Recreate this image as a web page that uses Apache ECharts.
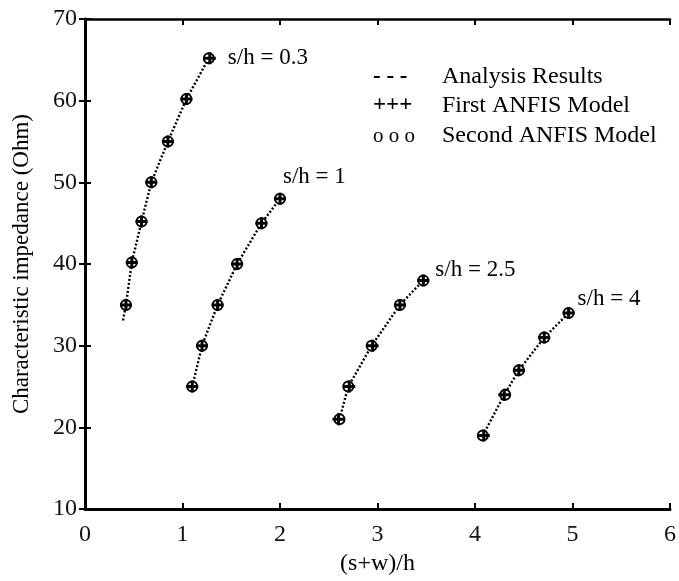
<!DOCTYPE html>
<html>
<head>
    <meta charset="UTF-8">
    <title>Characteristic impedance vs (s+w)/h</title>
    <script src="https://cdn.jsdelivr.net/npm/echarts@6/dist/echarts.min.js"></script>
</head>
<body style="margin:0;background:#fff;">
    <div id="main" style="width: 679px;height:581px;"></div>
    <script type="text/javascript">
        // curve labels
        var curveNames = ['s/h = 0.3', 's/h = 1', 's/h = 2.5', 's/h = 4'];

        // analysis results (dotted lines)
        var anaX03 = [0.39, 0.42, 0.48, 0.58, 0.68, 0.85, 1.04, 1.27];
        var anaY03 = [33.1, 35, 40.2, 45.2, 50, 55, 60.2, 65.2];
        var anaX1 = [1.10, 1.20, 1.36, 1.56, 1.81, 2.00];
        var anaY1 = [25, 30, 35, 40, 45, 48];
        var anaX25 = [2.61, 2.70, 2.94, 3.23, 3.47];
        var anaY25 = [21, 25, 30, 35, 38];
        var anaX4 = [4.08, 4.30, 4.45, 4.71, 4.96];
        var anaY4 = [19, 24, 27, 31, 34];

        // first ANFIS model (+)
        var f1X03 = [0.42, 0.48, 0.58, 0.68, 0.85, 1.04, 1.28];
        var f1Y03 = [35, 40.2, 45.2, 50, 55, 60.2, 65.2];
        var f1X1 = [1.10, 1.20, 1.36, 1.56, 1.81, 2.00];
        var f1Y1 = [25, 30, 35, 40, 45, 48];
        var f1X25 = [2.60, 2.71, 2.95, 3.23, 3.47];
        var f1Y25 = [21, 25, 30, 35, 38];
        var f1X4 = [4.09, 4.30, 4.45, 4.71, 4.96];
        var f1Y4 = [19, 24, 27, 31, 34];

        // second ANFIS model (o)
        var f2X03 = [0.42, 0.48, 0.58, 0.68, 0.85, 1.04, 1.27];
        var f2Y03 = [35, 40.2, 45.2, 50, 55, 60.2, 65.2];
        var f2X1 = [1.10, 1.20, 1.36, 1.56, 1.81, 2.00];
        var f2Y1 = [25, 30, 35, 40, 45, 48];
        var f2X25 = [2.61, 2.70, 2.94, 3.23, 3.47];
        var f2Y25 = [21, 25, 30, 35, 38];
        var f2X4 = [4.08, 4.31, 4.45, 4.71, 4.96];
        var f2Y4 = [19, 24, 27, 31, 34];

        var anaSets = [[anaX03, anaY03], [anaX1, anaY1], [anaX25, anaY25], [anaX4, anaY4]];
        var f1Sets = [[f1X03, f1Y03], [f1X1, f1Y1], [f1X25, f1Y25], [f1X4, f1Y4]];
        var f2Sets = [[f2X03, f2Y03], [f2X1, f2Y1], [f2X25, f2Y25], [f2X4, f2Y4]];

        var FONT = 'Liberation Serif';
        // label placement for each curve name (next to its last point)
        var labelPos = [
            { distance: 13, offset: [0, 0] },
            { distance: 0, offset: [-3, -22] },
            { distance: 6, offset: [0, -10] },
            { distance: 3, offset: [0, -14] }
        ];

        function pairs(set) {
            return set[0].map(function (x, i) { return [x, set[1][i]]; });
        }

        var plusPath = 'path://M4.5,0h3v4.5h4.5v3h-4.5v4.5h-3v-4.5h-4.5v-3h4.5z';
        var series = [];

        anaSets.forEach(function (set, k) {
            series.push({
                name: 'Analysis Results',
                type: 'line',
                data: pairs(set),
                showSymbol: false,
                silent: true,
                lineStyle: { color: '#000', width: 2.4, type: [2, 2] },
                z: 2
            });
        });

        f1Sets.forEach(function (set) {
            series.push({
                name: 'First ANFIS Model',
                type: 'scatter',
                data: pairs(set),
                symbol: plusPath,
                symbolSize: 12,
                itemStyle: { color: '#000', opacity: 1 },
                z: 4
            });
        });

        f2Sets.forEach(function (set, k) {
            var d = pairs(set);
            var last = d.length - 1;
            d[last] = {
                value: d[last],
                label: {
                    show: true,
                    formatter: curveNames[k],
                    position: 'right',
                    distance: labelPos[k].distance,
                    offset: labelPos[k].offset,
                    color: '#000',
                    fontFamily: FONT,
                    fontSize: 23
                }
            };
            series.push({
                name: 'Second ANFIS Model',
                type: 'scatter',
                data: d,
                symbol: 'emptyCircle',
                symbolSize: 10,
                itemStyle: { color: '#000', borderColor: '#000', borderWidth: 2.8, opacity: 1 },
                z: 3
            });
        });

        var myChart = echarts.init(document.getElementById('main'));

        var option = {
            backgroundColor: '#fff',
            animation: false,
            grid: { left: 85, top: 19, right: 6, bottom: 69 },
            xAxis: [{
                type: 'value',
                min: 0,
                max: 6,
                interval: 1,
                name: '(s+w)/h',
                nameLocation: 'middle',
                nameGap: 31,
                nameTextStyle: { color: '#000', fontFamily: FONT, fontSize: 24 },
                axisLine: { lineStyle: { color: '#000', width: 3 } },
                axisTick: { inside: true, length: 6, lineStyle: { color: '#000', width: 2 } },
                axisLabel: { color: '#111', fontFamily: FONT, fontSize: 24, margin: 14 },
                splitLine: { show: false }
            }, {
                type: 'value',
                position: 'top',
                min: 0,
                max: 6,
                interval: 1,
                axisLine: { show: true, lineStyle: { color: '#000', width: 2.5 } },
                axisTick: { inside: true, length: 6, lineStyle: { color: '#000', width: 2 } },
                axisLabel: { show: false },
                splitLine: { show: false }
            }],
            yAxis: [{
                type: 'value',
                min: 10,
                max: 70,
                interval: 10,
                name: 'Characteristic impedance (Ohm)',
                nameLocation: 'middle',
                nameGap: 52,
                nameTextStyle: { color: '#000', fontFamily: FONT, fontSize: 23 },
                axisLine: { lineStyle: { color: '#000', width: 3 } },
                axisTick: { inside: true, length: 6, lineStyle: { color: '#000', width: 2 } },
                axisLabel: { color: '#111', fontFamily: FONT, fontSize: 24, margin: 8 },
                splitLine: { show: false }
            }, {
                type: 'value',
                position: 'right',
                min: 10,
                max: 70,
                interval: 10,
                axisLine: { show: true, lineStyle: { color: '#000', width: 2.5 } },
                axisTick: { inside: true, length: 6, lineStyle: { color: '#000', width: 2 } },
                axisLabel: { show: false },
                splitLine: { show: false }
            }],
            graphic: [
                { type: 'text', left: 373, top: 66, style: { text: '- - -', font: 'bold 23px "Liberation Serif"', fill: '#000' } },
                { type: 'text', left: 373, top: 94, style: { text: '+++', font: 'bold 23px "Liberation Serif"', fill: '#000' } },
                { type: 'text', left: 373, top: 126, style: { text: 'o o o', font: '21px "Liberation Serif"', fill: '#000' } },
                { type: 'text', left: 442, top: 65, style: { text: 'Analysis Results', font: '24px "Liberation Serif"', fill: '#000' } },
                { type: 'text', left: 442, top: 94, style: { text: 'First ANFIS Model', font: '24px "Liberation Serif"', fill: '#000' } },
                { type: 'text', left: 442, top: 124, style: { text: 'Second ANFIS Model', font: '24px "Liberation Serif"', fill: '#000' } }
            ],
            series: series
        };

        myChart.setOption(option);
    </script>
</body>
</html>
